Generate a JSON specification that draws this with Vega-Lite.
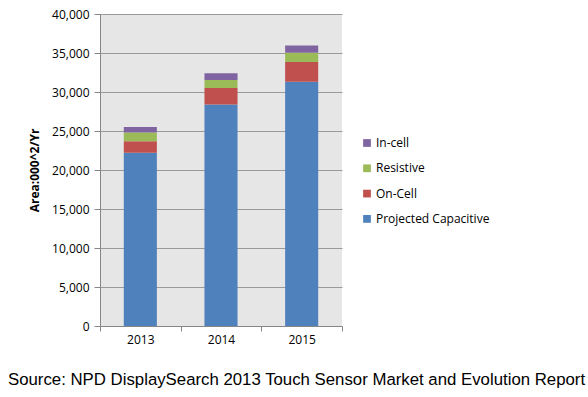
{
  "$schema": "https://vega.github.io/schema/vega-lite/v6.json",
  "width": 242,
  "height": 312,
  "autosize": {"type": "none"},
  "padding": {"left": 100, "top": 14, "right": 246, "bottom": 71},
  "background": "white",
  "view": {"fill": "#E6E6E6", "stroke": null},
  "title": {
    "text": "Source: NPD DisplaySearch 2013 Touch Sensor Market and Evolution Report",
    "orient": "bottom",
    "anchor": "start",
    "frame": "group",
    "dx": -92,
    "offset": 27,
    "font": "Liberation Sans",
    "fontSize": 16.8,
    "fontWeight": "normal",
    "color": "black"
  },
  "data": {
    "values": [
      {"year": "2013", "type": "Projected Capacitive", "rank": 1, "value": 22200},
      {"year": "2013", "type": "On-Cell", "rank": 2, "value": 1500},
      {"year": "2013", "type": "Resistive", "rank": 3, "value": 1100},
      {"year": "2013", "type": "In-cell", "rank": 4, "value": 720},
      {"year": "2014", "type": "Projected Capacitive", "rank": 1, "value": 28400},
      {"year": "2014", "type": "On-Cell", "rank": 2, "value": 2100},
      {"year": "2014", "type": "Resistive", "rank": 3, "value": 1040},
      {"year": "2014", "type": "In-cell", "rank": 4, "value": 860},
      {"year": "2015", "type": "Projected Capacitive", "rank": 1, "value": 31320},
      {"year": "2015", "type": "On-Cell", "rank": 2, "value": 2530},
      {"year": "2015", "type": "Resistive", "rank": 3, "value": 1190},
      {"year": "2015", "type": "In-cell", "rank": 4, "value": 920}
    ]
  },
  "mark": {"type": "bar", "width": {"band": 0.41}},
  "encoding": {
    "x": {
      "field": "year",
      "type": "nominal",
      "scale": {"paddingInner": 0, "paddingOuter": 0},
      "axis": {
        "title": null,
        "labelAngle": 0,
        "labelFont": "Open Sans",
        "labelFontSize": 12,
        "labelColor": "black",
        "labelPadding": 3,
        "tickBand": "extent",
        "tickSize": 5,
        "tickColor": "#868686",
        "domainColor": "#868686",
        "grid": false
      }
    },
    "y": {
      "field": "value",
      "type": "quantitative",
      "stack": "zero",
      "scale": {"domain": [0, 40000], "nice": false},
      "axis": {
        "title": "Area:000^2/Yr",
        "titleFont": "Open Sans",
        "titleFontSize": 12,
        "titleFontWeight": "bold",
        "titleColor": "black",
        "titlePadding": 10,
        "values": [0, 5000, 10000, 15000, 20000, 25000, 30000, 35000, 40000],
        "format": ",d",
        "labelFont": "Open Sans",
        "labelFontSize": 12,
        "labelColor": "black",
        "labelPadding": 5,
        "tickSize": 6,
        "tickColor": "#868686",
        "domainColor": "#868686",
        "grid": true,
        "gridColor": "#9A9A9A",
        "gridWidth": 1
      }
    },
    "color": {
      "field": "type",
      "type": "nominal",
      "scale": {
        "domain": ["In-cell", "Resistive", "On-Cell", "Projected Capacitive"],
        "range": ["#8064A2", "#9BBB59", "#C0504D", "#4F81BD"]
      },
      "legend": {
        "title": null,
        "orient": "none",
        "legendX": 261,
        "legendY": 123,
        "symbolType": "square",
        "symbolSize": 60,
        "symbolStrokeWidth": 0,
        "rowPadding": 13.3,
        "labelFont": "Open Sans",
        "labelFontSize": 12,
        "labelColor": "black",
        "labelOffset": 3
      }
    },
    "order": {"field": "rank", "type": "quantitative", "sort": "ascending"}
  }
}
